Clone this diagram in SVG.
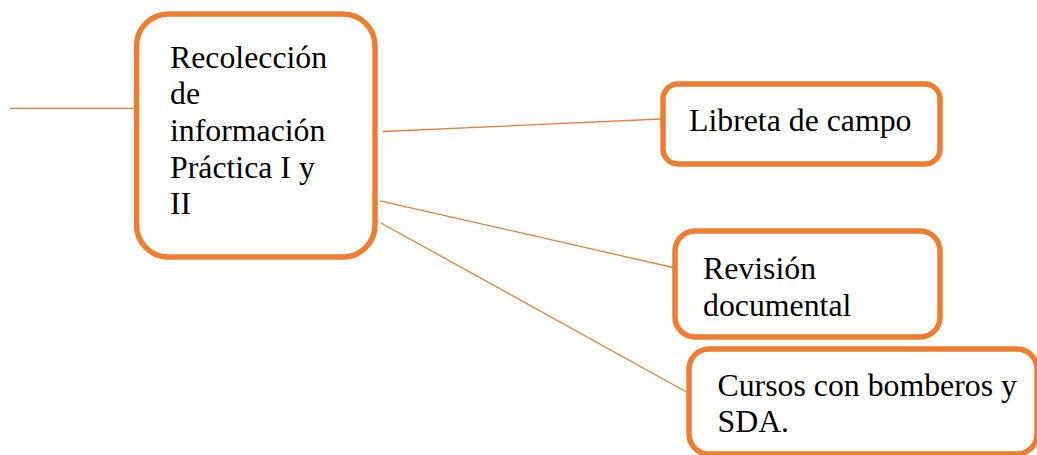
<svg xmlns="http://www.w3.org/2000/svg" width="1037" height="455" viewBox="0 0 1037 455">
<style>
.box{fill:#ffffff;stroke:#ED7D31;stroke-width:5.5}
.ln{stroke:#ED7D31;stroke-width:1.3;fill:none}
.t{font-family:"Liberation Serif","Times New Roman",serif;font-size:31.8px;fill:#000000}
</style>
<rect width="1037" height="455" fill="#ffffff"/>
<g id="connectors">
<line class="ln" x1="10" y1="108.3" x2="134" y2="108.3"/>
<line class="ln" x1="382.7" y1="131.5" x2="661" y2="119"/>
<line class="ln" x1="380" y1="200.8" x2="673" y2="267.5"/>
<line class="ln" x1="381" y1="223" x2="686.5" y2="392"/>
</g>
<g id="node-main">
<rect class="box" x="136.5" y="14" width="238.5" height="243" rx="32" ry="32"/>
<text class="t" x="170" y="68">Recolección</text>
<text class="t" x="170" y="104">de</text>
<text class="t" x="170" y="141">información</text>
<text class="t" x="170" y="178">Práctica I y</text>
<text class="t" x="170" y="214">II</text>
</g>
<g id="node-libreta">
<rect class="box" x="663" y="84" width="277" height="80" rx="15" ry="15"/>
<text class="t" x="689" y="131">Libreta de campo</text>
</g>
<g id="node-revision">
<rect class="box" x="675" y="231" width="265" height="106" rx="20" ry="20"/>
<text class="t" x="703" y="279">Revisión</text>
<text class="t" x="703" y="315.5">documental</text>
</g>
<g id="node-cursos">
<rect class="box" x="689" y="349" width="348" height="105" rx="20" ry="20"/>
<text class="t" x="717.5" y="395.5">Cursos con bomberos y</text>
<text class="t" x="717.5" y="432">SDA.</text>
</g>
</svg>
